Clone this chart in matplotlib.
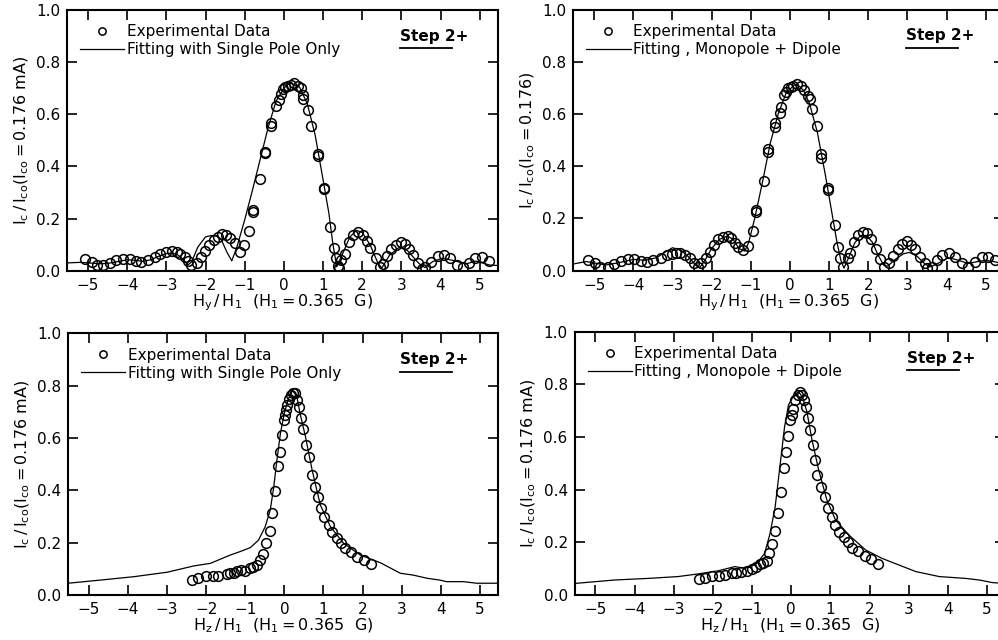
import matplotlib
matplotlib.use("Agg")
import matplotlib.pyplot as plt
from matplotlib.ticker import FormatStrFormatter

# top left: H_y scan, fit with single pole only
hy_single_exp_x = [-5.08, -4.90, -4.76, -4.62, -4.45, -4.28, -4.11, -3.94, -3.78, -3.64,
                   -3.47, -3.30, -3.15, -3.00, -2.86, -2.74, -2.64, -2.53, -2.45, -2.36,
                   -2.23, -2.11, -2.01, -1.90, -1.79, -1.68, -1.58, -1.47, -1.37, -1.26,
                   -1.13, -1.02, -0.90, -0.79, -0.79, -0.60, -0.47, -0.47, -0.32, -0.32,
                   -0.21, -0.13, -0.08, -0.03, 0.04, 0.11, 0.19, 0.27, 0.36, 0.44,
                   0.48, 0.50, 0.61, 0.70, 0.87, 0.87, 1.02, 1.02, 1.19, 1.28,
                   1.34, 1.38, 1.40, 1.46, 1.55, 1.66, 1.76, 1.89, 2.02, 2.12,
                   2.20, 2.34, 2.46, 2.53, 2.64, 2.74, 2.87, 2.99, 3.10, 3.19,
                   3.31, 3.42, 3.53, 3.61, 3.76, 3.93, 4.08, 4.23, 4.41, 4.57,
                   4.72, 4.89, 5.06, 5.23]
hy_single_exp_y = [0.044, 0.035, 0.021, 0.021, 0.028, 0.041, 0.046, 0.044, 0.038, 0.035,
                   0.041, 0.054, 0.064, 0.072, 0.077, 0.072, 0.063, 0.051, 0.037, 0.023,
                   0.028, 0.054, 0.074, 0.097, 0.118, 0.130, 0.141, 0.137, 0.124, 0.107,
                   0.073, 0.097, 0.153, 0.233, 0.225, 0.352, 0.457, 0.450, 0.557, 0.568,
                   0.632, 0.655, 0.677, 0.696, 0.706, 0.708, 0.712, 0.719, 0.708, 0.700,
                   0.674, 0.657, 0.616, 0.556, 0.448, 0.440, 0.318, 0.312, 0.169, 0.086,
                   0.048, 0.018, 0.010, 0.041, 0.064, 0.111, 0.137, 0.150, 0.137, 0.115,
                   0.086, 0.048, 0.015, 0.025, 0.056, 0.082, 0.099, 0.111, 0.101, 0.082,
                   0.060, 0.031, 0.005, 0.015, 0.035, 0.056, 0.060, 0.048, 0.022, 0.015,
                   0.028, 0.048, 0.054, 0.038]
hy_single_fit_x = [-5.53, -5.2, -5.0, -4.7, -4.5, -4.2, -4.0, -3.8, -3.6, -3.4,
                   -3.2, -3.0, -2.85, -2.7, -2.55, -2.45, -2.35, -2.2, -2.0, -1.85,
                   -1.72, -1.6, -1.45, -1.33, -1.2, -1.0, -0.8, -0.6, -0.4, -0.2,
                   0.0, 0.15, 0.4, 0.6, 0.8, 1.0, 1.15, 1.25, 1.35, 1.5,
                   1.68, 1.85, 2.0, 2.2, 2.4, 2.5, 2.7, 2.95, 3.15, 3.45,
                   3.6, 3.8, 4.05, 4.3, 4.65, 4.9, 5.25, 5.46]
hy_single_fit_y = [0.03, 0.032, 0.03, 0.027, 0.028, 0.036, 0.042, 0.04, 0.036, 0.042,
                   0.055, 0.066, 0.068, 0.06, 0.04, 0.022, 0.035, 0.09, 0.13, 0.135,
                   0.135, 0.12, 0.07, 0.038, 0.09, 0.195, 0.31, 0.43, 0.55, 0.65,
                   0.70, 0.72, 0.705, 0.64, 0.52, 0.35, 0.22, 0.105, 0.015, 0.065,
                   0.128, 0.155, 0.147, 0.10, 0.03, 0.01, 0.06, 0.09, 0.078, 0.028,
                   0.012, 0.035, 0.048, 0.04, 0.026, 0.037, 0.022, 0.02]

# top right: H_y scan, monopole + dipole fit
hy_dipole_exp_x = [-5.16, -4.97, -4.86, -4.64, -4.48, -4.31, -4.14, -3.98, -3.81, -3.64,
                   -3.49, -3.30, -3.13, -3.02, -2.92, -2.80, -2.68, -2.55, -2.44, -2.36,
                   -2.26, -2.14, -2.03, -1.93, -1.83, -1.72, -1.59, -1.50, -1.40, -1.32,
                   -1.21, -1.06, -0.95, -0.86, -0.86, -0.67, -0.56, -0.56, -0.39, -0.37,
                   -0.25, -0.22, -0.14, -0.09, -0.05, 0.02, 0.09, 0.19, 0.27, 0.36,
                   0.46, 0.50, 0.56, 0.68, 0.79, 0.79, 0.97, 0.97, 1.15, 1.23,
                   1.29, 1.36, 1.47, 1.53, 1.64, 1.74, 1.87, 1.98, 2.08, 2.20,
                   2.30, 2.41, 2.53, 2.64, 2.75, 2.87, 2.98, 3.09, 3.19, 3.33,
                   3.45, 3.50, 3.62, 3.75, 3.88, 4.05, 4.21, 4.39, 4.55, 4.72,
                   4.91, 5.06, 5.23]
hy_dipole_exp_y = [0.041, 0.028, 0.015, 0.015, 0.025, 0.038, 0.043, 0.043, 0.036, 0.034,
                   0.040, 0.050, 0.059, 0.063, 0.066, 0.066, 0.059, 0.047, 0.028, 0.015,
                   0.028, 0.050, 0.072, 0.098, 0.120, 0.128, 0.133, 0.124, 0.107, 0.090,
                   0.079, 0.094, 0.153, 0.232, 0.225, 0.344, 0.454, 0.465, 0.549, 0.565,
                   0.603, 0.626, 0.673, 0.685, 0.698, 0.704, 0.708, 0.714, 0.707, 0.694,
                   0.669, 0.656, 0.621, 0.554, 0.446, 0.433, 0.315, 0.308, 0.175, 0.092,
                   0.047, 0.015, 0.047, 0.066, 0.111, 0.137, 0.149, 0.143, 0.120, 0.082,
                   0.045, 0.015, 0.028, 0.056, 0.085, 0.102, 0.115, 0.098, 0.082, 0.053,
                   0.031, 0.009, 0.015, 0.041, 0.060, 0.066, 0.051, 0.028, 0.015, 0.034,
                   0.051, 0.054, 0.041]
hy_dipole_fit_x = [-5.56, -5.2, -5.0, -4.7, -4.4, -4.0, -3.7, -3.4, -3.2, -3.0,
                   -2.8, -2.6, -2.4, -2.3, -2.15, -2.0, -1.8, -1.6, -1.45, -1.3,
                   -1.15, -1.05, -0.9, -0.7, -0.5, -0.3, -0.1, 0.1, 0.2, 0.35,
                   0.5, 0.7, 0.9, 1.05, 1.2, 1.3, 1.38, 1.5, 1.65, 1.8,
                   1.95, 2.1, 2.25, 2.4, 2.5, 2.7, 2.9, 3.05, 3.25, 3.45,
                   3.6, 3.8, 4.05, 4.3, 4.55, 4.8, 5.0, 5.2, 5.5]
hy_dipole_fit_y = [0.025, 0.035, 0.03, 0.022, 0.03, 0.043, 0.04, 0.05, 0.07, 0.088,
                   0.08, 0.055, 0.02, 0.012, 0.045, 0.085, 0.12, 0.133, 0.12, 0.085,
                   0.075, 0.11, 0.2, 0.34, 0.49, 0.6, 0.68, 0.71, 0.712, 0.69,
                   0.64, 0.53, 0.37, 0.24, 0.11, 0.04, 0.01, 0.05, 0.105, 0.135,
                   0.135, 0.11, 0.06, 0.02, 0.018, 0.045, 0.065, 0.07, 0.055, 0.025,
                   0.015, 0.03, 0.05, 0.04, 0.028, 0.035, 0.04, 0.035, 0.025]

# bottom left: H_z scan, single pole fit
hz_single_exp_x = [-2.37, -2.20, -2.00, -1.83, -1.69, -1.47, -1.39, -1.30, -1.20, -1.12,
                   -1.01, -0.89, -0.79, -0.71, -0.62, -0.54, -0.47, -0.38, -0.32, -0.24,
                   -0.16, -0.12, -0.06, -0.02, 0.01, 0.05, 0.08, 0.13, 0.17, 0.21,
                   0.28, 0.32, 0.37, 0.43, 0.49, 0.55, 0.62, 0.71, 0.79, 0.86,
                   0.94, 1.02, 1.13, 1.21, 1.34, 1.44, 1.55, 1.70, 1.87, 2.04,
                   2.22]
hz_single_exp_y = [0.057, 0.066, 0.073, 0.073, 0.073, 0.080, 0.083, 0.085, 0.092, 0.096,
                   0.093, 0.102, 0.108, 0.115, 0.134, 0.156, 0.198, 0.246, 0.315, 0.399,
                   0.491, 0.548, 0.611, 0.669, 0.688, 0.707, 0.726, 0.748, 0.764, 0.773,
                   0.771, 0.745, 0.717, 0.678, 0.633, 0.573, 0.526, 0.459, 0.414, 0.373,
                   0.331, 0.299, 0.267, 0.242, 0.216, 0.200, 0.178, 0.166, 0.146, 0.134,
                   0.117]
hz_single_fit_x = [-5.53, -4.71, -3.85, -3.0, -2.32, -1.89, -1.38, -1.13, -0.87, -0.66,
                   -0.49, -0.36, -0.27, -0.19, -0.10, 0.0, 0.11, 0.21, 0.32, 0.40,
                   0.54, 0.71, 0.92, 1.18, 1.52, 1.94, 2.46, 2.97, 3.3, 3.65,
                   3.98, 4.15, 4.58, 4.92, 5.46]
hz_single_fit_y = [0.045, 0.057, 0.070, 0.087, 0.111, 0.121, 0.153, 0.166, 0.181, 0.21,
                   0.261, 0.325, 0.414, 0.516, 0.618, 0.695, 0.752, 0.781, 0.758, 0.695,
                   0.605, 0.478, 0.344, 0.261, 0.197, 0.153, 0.123, 0.083, 0.076, 0.064,
                   0.057, 0.051, 0.051, 0.045, 0.045]

# bottom right: H_z scan, monopole + dipole fit
hz_dipole_exp_x = [-2.36, -2.19, -2.02, -1.85, -1.69, -1.52, -1.42, -1.27, -1.14, -1.01,
                   -0.91, -0.80, -0.71, -0.63, -0.56, -0.48, -0.41, -0.33, -0.27, -0.18,
                   -0.14, -0.07, -0.03, 0.02, 0.04, 0.10, 0.17, 0.23, 0.27, 0.32,
                   0.37, 0.43, 0.47, 0.55, 0.60, 0.66, 0.77, 0.85, 0.94, 1.03,
                   1.13, 1.21, 1.34, 1.45, 1.55, 1.71, 1.88, 2.03, 2.22]
hz_dipole_exp_y = [0.061, 0.066, 0.072, 0.072, 0.076, 0.085, 0.082, 0.089, 0.092, 0.099,
                   0.108, 0.117, 0.123, 0.130, 0.158, 0.194, 0.244, 0.313, 0.392, 0.483,
                   0.544, 0.604, 0.665, 0.684, 0.705, 0.741, 0.760, 0.772, 0.760, 0.741,
                   0.715, 0.671, 0.627, 0.570, 0.513, 0.456, 0.411, 0.371, 0.329, 0.297,
                   0.266, 0.240, 0.221, 0.202, 0.180, 0.167, 0.148, 0.136, 0.118]
hz_dipole_fit_x = [-5.52, -4.51, -3.66, -2.89, -2.38, -1.86, -1.44, -1.18, -0.88, -0.68,
                   -0.54, -0.41, -0.28, -0.17, -0.07, 0.06, 0.19, 0.29, 0.40, 0.53,
                   0.70, 0.91, 1.13, 1.47, 1.90, 2.32, 2.75, 3.18, 3.78, 4.46,
                   4.80, 5.14, 5.48]
hz_dipole_fit_y = [0.044, 0.057, 0.063, 0.070, 0.080, 0.092, 0.108, 0.101, 0.120, 0.158,
                   0.234, 0.335, 0.500, 0.639, 0.722, 0.756, 0.772, 0.751, 0.696, 0.589,
                   0.475, 0.361, 0.285, 0.228, 0.171, 0.139, 0.114, 0.089, 0.070, 0.063,
                   0.057, 0.047, 0.044]

x_ticks = [-5, -4, -3, -2, -1, 0, 1, 2, 3, 4, 5]
y_ticks = [0.0, 0.2, 0.4, 0.6, 0.8, 1.0]

label_single = "Fitting with Single Pole Only"
label_dipole = "Fitting , Monopole + Dipole"
ylabel_ma = r"$\mathregular{I_c\,/\,I_{co}(I_{co} = 0.176\ mA)}$"
ylabel_plain = r"$\mathregular{I_c\,/\,I_{co}(I_{co} = 0.176)}$"
xlabel_y = r"$\mathregular{H_y\,/\,H_1\ \ (H_1 = 0.365\ \ G)}$"
xlabel_z = r"$\mathregular{H_z\,/\,H_1\ \ (H_1 = 0.365\ \ G)}$"


def draw_panel(ax, xe, ye, xf, yf, fit_label, xlabel, ylabel):
    ax.plot(xe, ye, 'o', mfc='none', mec='black', ms=7, mew=1.1,
            label='Experimental Data', zorder=3)
    ax.plot(xf, yf, '-', color='black', lw=0.9, label=fit_label, zorder=2)
    ax.set_xlim(-5.53, 5.46)
    ax.set_ylim(0, 1.0)
    ax.set_xticks(x_ticks)
    ax.set_yticks(y_ticks)
    ax.yaxis.set_major_formatter(FormatStrFormatter('%.1f'))
    ax.tick_params(direction='in', top=True, right=True, length=7, width=1.2,
                   labelsize=11, pad=5)
    for s in ax.spines.values():
        s.set_linewidth(1.5)
    ax.set_xlabel(xlabel, fontsize=11.5, labelpad=0)
    ax.set_ylabel(ylabel, fontsize=11.5, labelpad=4)
    ax.legend(loc='upper left', bbox_to_anchor=(0.03, 0.945), frameon=False,
              fontsize=11, numpoints=1, markerscale=0.75, handlelength=2.9,
              handletextpad=0.15, labelspacing=0.2, borderpad=0, borderaxespad=0)
    ax.text(0.773, 0.90, "Step 2+", transform=ax.transAxes, fontsize=11,
            fontweight='bold', va='center', ha='left')
    ax.plot([0.773, 0.893], [0.853, 0.853], color='black', lw=1.3,
            transform=ax.transAxes, clip_on=False)


fig = plt.figure(figsize=(9.98, 6.4), dpi=100)
ax1 = fig.add_axes([0.0674, 0.577, 0.4313, 0.4073])
ax2 = fig.add_axes([0.5745, 0.577, 0.4313, 0.4080])
ax3 = fig.add_axes([0.0684, 0.0703, 0.4303, 0.4090])
ax4 = fig.add_axes([0.5758, 0.0703, 0.4313, 0.4114])

draw_panel(ax1, hy_single_exp_x, hy_single_exp_y, hy_single_fit_x, hy_single_fit_y,
           label_single, xlabel_y, ylabel_ma)
draw_panel(ax2, hy_dipole_exp_x, hy_dipole_exp_y, hy_dipole_fit_x, hy_dipole_fit_y,
           label_dipole, xlabel_y, ylabel_plain)
draw_panel(ax3, hz_single_exp_x, hz_single_exp_y, hz_single_fit_x, hz_single_fit_y,
           label_single, xlabel_z, ylabel_ma)
draw_panel(ax4, hz_dipole_exp_x, hz_dipole_exp_y, hz_dipole_fit_x, hz_dipole_fit_y,
           label_dipole, xlabel_z, ylabel_ma)

fig.savefig("out.png", dpi=100)
